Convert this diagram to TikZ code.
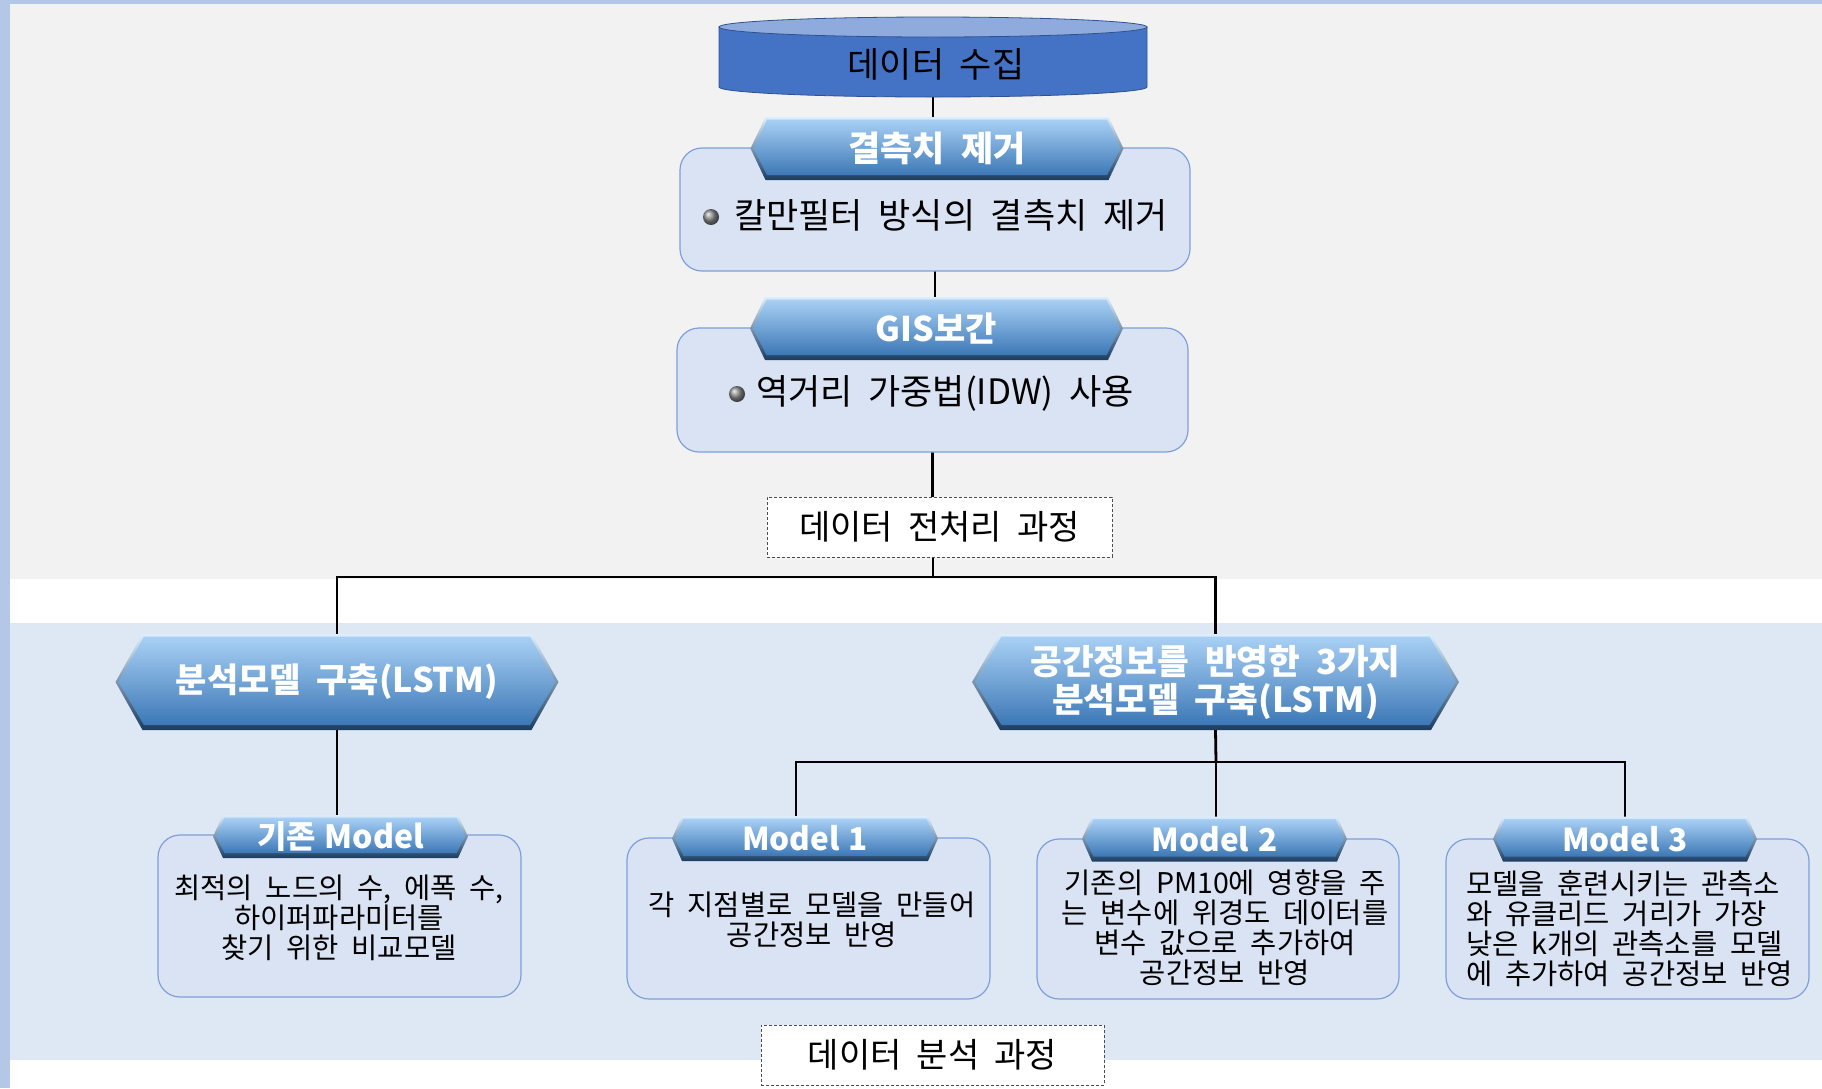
\documentclass[tikz,border=0pt]{standalone}
\usepackage{fontspec}
\setmainfont{Noto Sans CJK KR}[WordSpace=2]
\newfontfamily\krtitle{Noto Sans CJK KR}[WordSpace=1.2]
\usetikzlibrary{calc}
\definecolor{stripc}{HTML}{B4C7E7}
\definecolor{topbg}{HTML}{F2F2F2}
\definecolor{botbg}{HTML}{DEE8F4}
\definecolor{boxfill}{HTML}{DAE3F3}
\definecolor{boxline}{HTML}{7E9FDA}
\definecolor{cylbody}{HTML}{4472C4}
\definecolor{cyltop}{HTML}{8FAADC}
\definecolor{cylline}{HTML}{2F528F}
\definecolor{banOutTop}{HTML}{DCEEFC}
\definecolor{banOutBot}{HTML}{1A3C60}
\definecolor{banInTop}{HTML}{A9D0F5}
\definecolor{banInBot}{HTML}{3C78B6}
\pgfdeclarelayer{bg}
\pgfdeclarelayer{edges}
\pgfdeclarelayer{boxes}
\pgfdeclarelayer{banners}
\pgfsetlayers{bg,edges,boxes,banners,main}
\tikzset{
  bantext/.style={text=white, inner sep=0pt, outer sep=0pt, align=center},
  boxst/.style={draw=boxline, fill=boxfill, rounded corners=22pt, line width=1.2pt, inner sep=0pt, outer sep=0pt},
  dashbox/.style={draw=black!70, dash pattern=on 3pt off 2pt, fill=white, line width=1pt, inner sep=0pt, outer sep=0pt, font=\fontsize{34}{40}\selectfont},
  conn/.style={line width=2.8pt, black},
  ballst/.style={circle, inner sep=0pt, minimum size=16pt, ball color=black!45},
  bodytxt/.style={font=\fontsize{35}{40}\selectfont, inner sep=0pt, anchor=west},
  smalltxt/.style={font=\fontsize{28.5}{30}\selectfont, inner sep=0pt, align=center},
  plain/.style={inner sep=0pt, outer sep=0pt}
}
% name, position, width, height, slant, font, text
\newcommand\banner[7]{%
  \node[bantext, minimum width=#3pt, minimum height=#4pt, font=#6] (#1) at #2 {#7};
  \begin{pgfonlayer}{banners}
    \shade[top color=banOutTop, bottom color=banOutBot]
      (#1.west) -- ([xshift=#5pt]#1.north west) -- ([xshift=-#5pt]#1.north east)
      -- (#1.east) -- ([xshift=-#5pt]#1.south east) -- ([xshift=#5pt]#1.south west) -- cycle;
    \shade[top color=banInTop, bottom color=banInBot]
      ([xshift=3pt]#1.west) -- ([shift={(#5pt+1.5pt,-2.5pt)}]#1.north west)
      -- ([shift={(-#5pt-1.5pt,-2.5pt)}]#1.north east) -- ([xshift=-3pt]#1.east)
      -- ([shift={(-#5pt-1.5pt,5pt)}]#1.south east) -- ([shift={(#5pt+1.5pt,5pt)}]#1.south west) -- cycle;
  \end{pgfonlayer}}
\begin{document}
\begin{tikzpicture}[x=1pt,y=-1pt]
\useasboundingbox (0,0) rectangle (1822,1088);
\begin{pgfonlayer}{bg}
  \fill[white] (0,0) rectangle (1822,1088);
  \fill[topbg] (10,4) rectangle (1822,579);
  \fill[botbg] (10,623) rectangle (1822,1060);
  \fill[stripc] (0,0) rectangle (10,1088);
  \fill[stripc] (0,0) rectangle (1822,4);
\end{pgfonlayer}

% cylinder
\node[plain, minimum width=428pt, minimum height=80pt] (cyl) at (933,57) {};
\begin{pgfonlayer}{banners}
  \path[fill=cylbody, draw=cylline, line width=0.8pt] (719,27) -- (719,87)
     arc[start angle=180, end angle=0, x radius=214, y radius=10] -- (1147,27) -- cycle;
  \path[fill=cyltop, draw=cylline, line width=0.8pt] (933,27) ellipse[x radius=214, y radius=10];
\end{pgfonlayer}
\node[plain, font=\fontsize{35}{40}\selectfont] (cyltxt) at (936,64) {데이터 수집};

% content boxes
\begin{pgfonlayer}{boxes}
  \node[boxst, minimum width=510pt, minimum height=123pt] (box1) at (935,209.5) {};
  \node[boxst, minimum width=511pt, minimum height=124pt] (box2) at (932.5,390) {};
  \node[boxst, minimum width=363pt, minimum height=162pt] (kbox) at (339.5,916) {};
  \node[boxst, minimum width=363pt, minimum height=161pt] (m1box) at (808.5,918.5) {};
  \node[boxst, minimum width=362pt, minimum height=160pt] (m2box) at (1218,919) {};
  \node[boxst, minimum width=363pt, minimum height=160pt] (m3box) at (1627.5,919) {};
\end{pgfonlayer}

\banner{ban1}{(937,148.5)}{373}{63}{15}{\bfseries\fontsize{35}{40}\selectfont}{결측치 제거}
\banner{ban2}{(936.5,328.5)}{373}{63}{15}{\bfseries\fontsize{34}{40}\selectfont}{GIS보간}

\node[ballst] (bul1) at (711,217) {};
\node[bodytxt] (t1) at (734,215) {칼만필터 방식의 결측치 제거};
\node[ballst] (bul2) at (737,394) {};
\node[bodytxt] (t2) at (756,393) {역거리 가중법(IDW) 사용};

\node[dashbox, minimum width=345pt, minimum height=60pt] (dp1) at (939.5,527) {데이터 전처리 과정};

\banner{banA}{(337,682)}{443}{96}{27}{\bfseries\fontsize{34}{38}\selectfont}{분석모델 구축(LSTM)}
\banner{banB}{(1215.5,682)}{487}{96}{28}{\bfseries\fontsize{34.5}{38}\selectfont}{공간정보를 반영한 3가지\\분석모델 구축(LSTM)}

\banner{kban}{(340.5,836.5)}{255}{43}{10}{\krtitle\bfseries\fontsize{32}{36}\selectfont}{기존 Model}
\banner{m1ban}{(805,838.5)}{266}{45}{10}{\krtitle\bfseries\fontsize{31.5}{36}\selectfont}{Model 1}
\banner{m2ban}{(1214.5,839)}{265}{45}{10}{\krtitle\bfseries\fontsize{31.5}{36}\selectfont}{Model 2}
\banner{m3ban}{(1625,839)}{264}{45}{10}{\krtitle\bfseries\fontsize{31.5}{36}\selectfont}{Model 3}

\node[smalltxt] (kt) at (339,918) {최적의 노드의 수, 에폭 수,\\하이퍼파라미터를\\찾기 위한 비교모델};
\node[smalltxt] (m1t) at (812,920) {각 지점별로 모델을 만들어\\공간정보 반영};
\node[smalltxt] (m2t) at (1225,928) {기존의 PM10에 영향을 주\\는 변수에 위경도 데이터를\\변수 값으로 추가하여\\공간정보 반영};
\node[smalltxt, align=left, anchor=west] (m3t) at (1466,929) {모델을 훈련시키는 관측소\\와 유클리드 거리가 가장\\낮은 k개의 관측소를 모델\\에 추가하여 공간정보 반영};

\node[dashbox, minimum width=343pt, minimum height=60pt] (dp2) at (932.5,1055) {데이터 분석 과정};

\coordinate (j1) at (933,577);
\coordinate (j2) at (1216,762);
\begin{pgfonlayer}{edges}
  \draw[conn] (cyl.south) -- (cyl.south |- ban1.north);
  \draw[conn] (box1.south) -- (box1.south |- ban2.north);
  \draw[conn] (box2.south) -- (box2.south |- dp1.north);
  \draw[conn] (j1 |- dp1.south) -- (j1);
  \draw[conn] (banA.north) |- (j1) -| (banB.north);
  \draw[conn] (banA.south) -- (banA.south |- kban.north);
  \draw[conn] (banB.south) -- (j2);
  \draw[conn] ([xshift=-9pt]m1ban.north) |- (j2) -| (m3ban.north);
  \draw[conn] (j2) -- (j2 |- m2ban.north);
\end{pgfonlayer}
\end{tikzpicture}
\end{document}
